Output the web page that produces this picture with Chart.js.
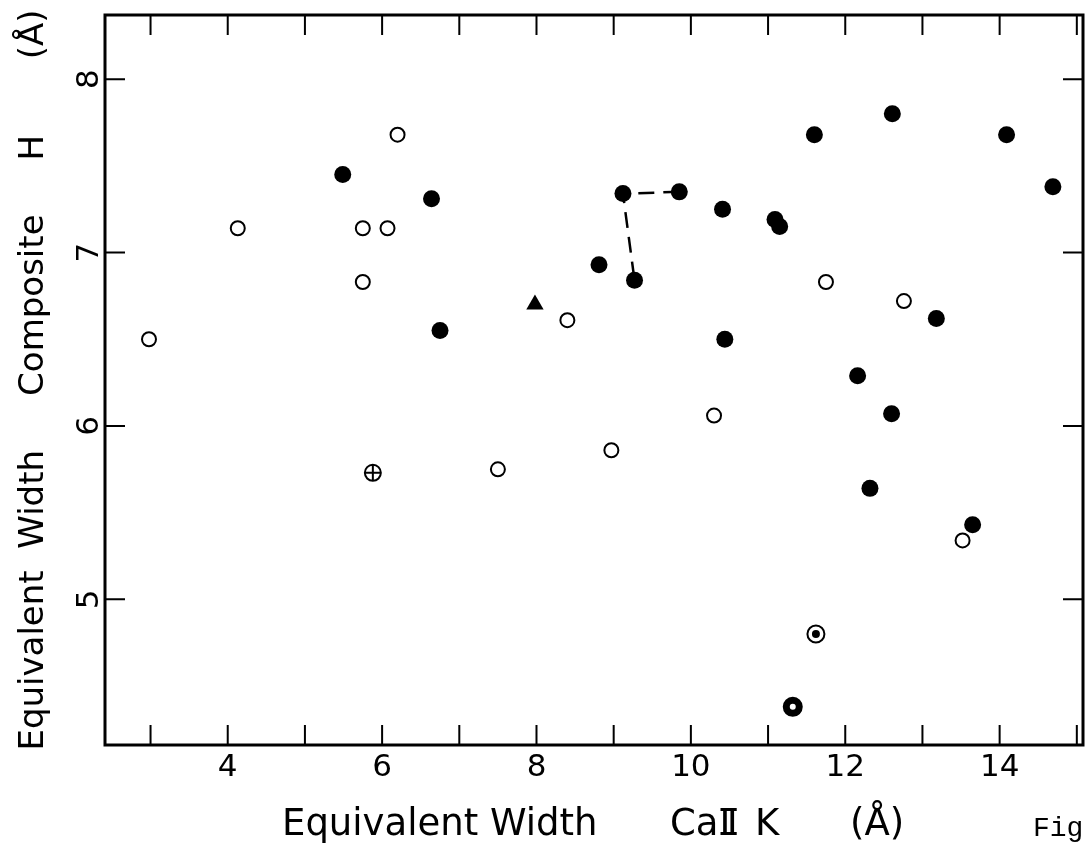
<!DOCTYPE html>
<html>
<head>
<meta charset="utf-8">
<script src="https://cdn.jsdelivr.net/npm/chart.js@4/dist/chart.umd.min.js"></script>
<style>
    html, body { margin: 0; padding: 0; background: #fff; overflow: hidden; }
    #wrap { width: 1086px; height: 851px; position: relative; }
</style>
</head>
<body>
<div id="wrap"><canvas id="caChart"></canvas></div>
<script>

// =====================================
// DATA
// =====================================

// open circles
const openX = [2.98, 4.13, 5.75, 6.07, 5.75, 6.20, 8.40, 7.50, 8.97, 10.30, 11.75, 12.76, 13.52];
const openY = [6.50, 7.14, 7.14, 7.14, 6.83, 7.68, 6.61, 5.75, 5.86, 6.06, 6.83, 6.72, 5.34];

// filled circles
const filledX = [5.49, 6.64, 6.75, 8.81, 9.12, 9.85, 9.27, 10.41, 11.09, 11.15, 10.44, 11.60, 12.61, 14.09, 14.69, 13.18, 12.16, 12.60, 12.32, 13.65];
const filledY = [7.45, 7.31, 6.55, 6.93, 7.34, 7.35, 6.84, 7.25, 7.19, 7.15, 6.50, 7.68, 7.80, 7.68, 7.38, 6.62, 6.29, 6.07, 5.64, 5.43];

// dashed connector between three filled points
const linkX = [9.85, 9.12, 9.27];
const linkY = [7.35, 7.34, 6.84];

// special symbols
const triangleX = [7.98];
const triangleY = [6.70];
const plusX = [5.88];
const plusY = [5.73];
const dotX = [11.62];
const dotY = [4.80];
const ringX = [11.32];
const ringY = [4.38];

// axes
const xMin = 2.41, xMax = 15.08;
const yMin = 4.16, yMax = 8.37;
const xLabelTicks = [4, 6, 8, 10, 12, 14];
const yLabelTicks = [5, 6, 7, 8];

// axis titles (x title is drawn in pieces so the roman numeral gets its bars)
const xTitleParts = ["Equivalent Width", "Ca", "Ⅱ", "K", "(Å)"];
const yTitle = "Equivalent  Width     Composite     H       (Å)";

const letterFont = "'DejaVu Sans', sans-serif";

function pts(xs, ys) {
    return xs.map((x, i) => ({ x: x, y: ys[i] }));
}

// =====================================
// FRAME + INWARD TICKS + X TITLE
// =====================================

const framePlugin = {

    id: "frame",

    afterDraw(chart) {

        const ctx = chart.ctx;
        const a = chart.chartArea;
        const xs = chart.scales.x;
        const ys = chart.scales.y;
        const len = 20;

        ctx.save();
        ctx.strokeStyle = "#000";
        ctx.lineWidth = 2;
        ctx.beginPath();

        xs.ticks.forEach(t => {
            const px = xs.getPixelForValue(t.value);
            if (px < a.left + 6 || px > a.right - 6) return;
            ctx.moveTo(px, a.bottom);
            ctx.lineTo(px, a.bottom - len);
            ctx.moveTo(px, a.top);
            ctx.lineTo(px, a.top + len);
        });

        ys.ticks.forEach(t => {
            const py = ys.getPixelForValue(t.value);
            if (py < a.top + 6 || py > a.bottom - 6) return;
            ctx.moveTo(a.left, py);
            ctx.lineTo(a.left + len, py);
            ctx.moveTo(a.right, py);
            ctx.lineTo(a.right - len, py);
        });

        ctx.stroke();

        ctx.lineWidth = 3;
        ctx.strokeRect(a.left, a.top, a.right - a.left, a.bottom - a.top);

        // x axis title, groups with wide gaps
        ctx.fillStyle = "#000";
        ctx.textBaseline = "alphabetic";
        ctx.textAlign = "left";
        ctx.font = "37px " + letterFont;
        const base = a.bottom + 90;
        ctx.fillText(xTitleParts[0], 282, base);
        ctx.fillText(xTitleParts[1], 670, base);
        ctx.fillText(xTitleParts[3], 755, base);
        ctx.fillText(xTitleParts[4], 850, base);

        // roman numeral with bars top and bottom
        const xI = 670 + ctx.measureText(xTitleParts[1]).width + 1;
        const wI = ctx.measureText(xTitleParts[2]).width;
        ctx.fillText(xTitleParts[2], xI, base);
        ctx.lineWidth = 3;
        ctx.beginPath();
        ctx.moveTo(xI + 1, base - 25.5);
        ctx.lineTo(xI + wI - 1, base - 25.5);
        ctx.moveTo(xI + 1, base - 1.5);
        ctx.lineTo(xI + wI - 1, base - 1.5);
        ctx.stroke();

        // caption fragment at the page edge
        ctx.font = "28px 'Liberation Mono', monospace";
        ctx.fillText("Fig", 1033, 836);

        ctx.restore();

    }

};

// =====================================
// CHART
// =====================================

const ctx = document.getElementById("caChart").getContext("2d");

new Chart(ctx, {

    type: "scatter",

    data: {

        datasets: [

            {
                data: pts(linkX, linkY),
                showLine: true,
                borderColor: "#000",
                borderWidth: 2.5,
                borderDash: [16, 9],
                pointRadius: 0,
                order: 10
            },

            {
                data: pts(openX, openY),
                pointStyle: "circle",
                pointRadius: 7,
                borderWidth: 2,
                borderColor: "#000",
                backgroundColor: "#fff",
                order: 5
            },

            {
                data: pts(filledX, filledY),
                pointStyle: "circle",
                pointRadius: 8.5,
                borderWidth: 0,
                backgroundColor: "#000",
                order: 5
            },

            {
                data: pts(triangleX, triangleY),
                pointStyle: "triangle",
                pointRadius: 10,
                borderWidth: 0,
                backgroundColor: "#000",
                order: 5
            },

            {
                data: pts(plusX, plusY),
                pointStyle: "circle",
                pointRadius: 8,
                borderWidth: 2,
                borderColor: "#000",
                backgroundColor: "#fff",
                order: 5
            },

            {
                data: pts(plusX, plusY),
                pointStyle: "cross",
                pointRadius: 8,
                borderWidth: 2,
                borderColor: "#000",
                order: 1
            },

            {
                data: pts(dotX, dotY),
                pointStyle: "circle",
                pointRadius: 8.5,
                borderWidth: 2,
                borderColor: "#000",
                backgroundColor: "#fff",
                order: 5
            },

            {
                data: pts(dotX, dotY),
                pointStyle: "circle",
                pointRadius: 4,
                borderWidth: 0,
                backgroundColor: "#000",
                order: 1
            },

            {
                data: pts(ringX, ringY),
                pointStyle: "circle",
                pointRadius: 6.5,
                borderWidth: 7,
                borderColor: "#000",
                backgroundColor: "#fff",
                order: 5
            }

        ]

    },

    options: {

        responsive: true,
        maintainAspectRatio: false,
        animation: false,

        // big markers would otherwise push the plot edges inwards
        layout: {
            autoPadding: false,
            padding: { top: 15, right: 3, left: 0, bottom: 0 }
        },

        plugins: {
            legend: { display: false },
            tooltip: { enabled: false }
        },

        scales: {

            x: {
                type: "linear",
                min: xMin,
                max: xMax,
                border: { display: false },
                grid: { display: false, drawTicks: true, tickLength: 4 },
                ticks: {
                    stepSize: 1,
                    includeBounds: false,
                    padding: 0,
                    color: "#000",
                    font: { family: letterFont, size: 31 },
                    maxRotation: 0,
                    autoSkip: false,
                    callback: v => xLabelTicks.includes(v) ? String(v) : ""
                },
                afterFit: s => {
                    s.height = 106;
                    s.paddingLeft = 0;
                    s.paddingRight = 0;
                }
            },

            y: {
                type: "linear",
                min: yMin,
                max: yMax,
                border: { display: false },
                grid: { display: false, drawTicks: false },
                ticks: {
                    stepSize: 1,
                    includeBounds: false,
                    padding: 5,
                    crossAlign: "center",
                    minRotation: 90,
                    maxRotation: 90,
                    color: "#000",
                    font: { family: letterFont, size: 31 },
                    callback: v => yLabelTicks.includes(v) ? String(v) : ""
                },
                title: {
                    display: true,
                    text: yTitle,
                    color: "#000",
                    font: { family: letterFont, size: 34 },
                    padding: { top: 14, bottom: 0 }
                },
                afterFit: s => {
                    s.width = 105;
                    s.paddingTop = 0;
                    s.paddingBottom = 0;
                }
            }

        }

    },

    plugins: [framePlugin]

});

</script>
</body>
</html>
